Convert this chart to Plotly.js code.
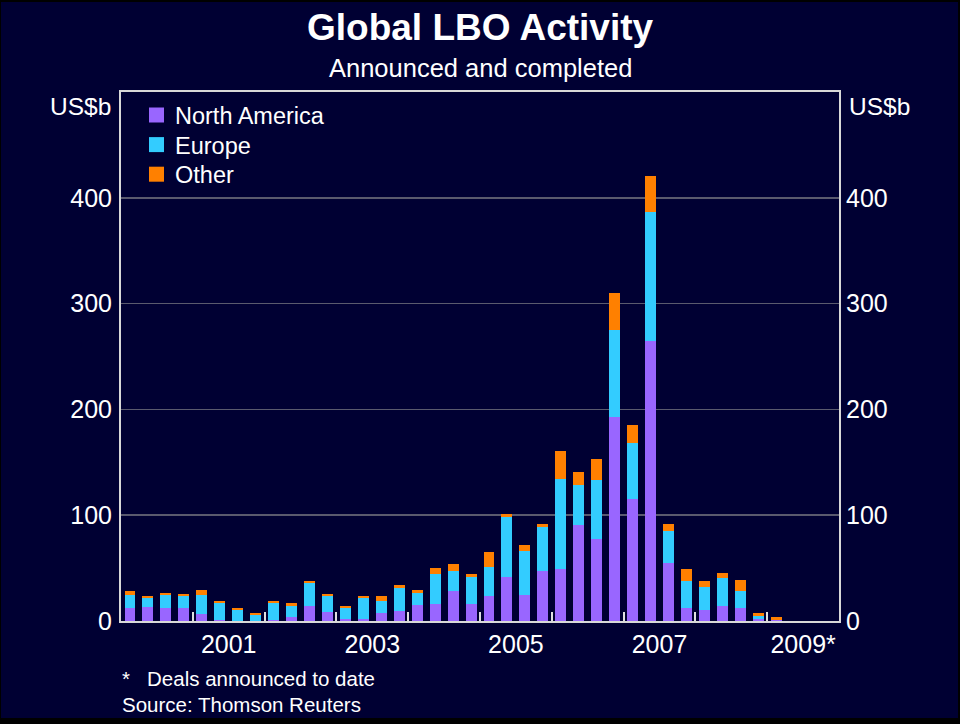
<!DOCTYPE html>
<html>
<head>
<meta charset="utf-8">
<script src="https://cdn.plot.ly/plotly-3.0.1.min.js"></script>
<style>
  html, body { margin: 0; padding: 0; background: #000000; width: 960px; height: 724px; overflow: hidden; }
  #chart { position: absolute; left: 1px; top: 2px; width: 957px; height: 716px; }
</style>
</head>
<body>
<div id="chart"></div>
<script>
// ---- Data (US$ billions, quarterly) ----
const quarters = [
  '2000Q1','2000Q2','2000Q3','2000Q4',
  '2001Q1','2001Q2','2001Q3','2001Q4',
  '2002Q1','2002Q2','2002Q3','2002Q4',
  '2003Q1','2003Q2','2003Q3','2003Q4',
  '2004Q1','2004Q2','2004Q3','2004Q4',
  '2005Q1','2005Q2','2005Q3','2005Q4',
  '2006Q1','2006Q2','2006Q3','2006Q4',
  '2007Q1','2007Q2','2007Q3','2007Q4',
  '2008Q1','2008Q2','2008Q3','2008Q4',
  '2009Q1'
];
const northAmerica = [
  12.3, 13.2, 12.3, 12.3,
  6.6, 0.5, 0.3, 0.3,
  0.5, 3.8, 14.2, 8.5,
  1.9, 1.6, 7.6, 9.3,
  14.8, 16.1, 28.1, 16.1,
  24.0, 41.6, 24.6, 47.3,
  49.2, 90.8, 77.6, 193.0,
  115.4, 264.9, 54.9, 12.6,
  10.4, 14.5, 12.6, 1.9,
  0.8
];
const europe = [
  12.3, 8.9, 12.3, 11.7,
  18.0, 16.2, 10.1, 5.1,
  16.2, 10.4, 21.4, 15.2,
  10.4, 20.2, 11.0, 21.9,
  11.4, 28.4, 18.9, 25.2,
  26.8, 56.8, 41.6, 41.6,
  85.1, 37.9, 55.8, 82.3,
  53.0, 122.0, 30.2, 25.2,
  21.8, 26.5, 15.8, 3.2,
  0.0
];
const other = [
  3.8, 1.6, 1.9, 1.9,
  4.7, 1.9, 1.9, 2.2,
  2.2, 2.8, 2.2, 1.8,
  1.9, 1.9, 5.1, 2.6,
  2.8, 5.7, 6.9, 2.9,
  14.2, 2.8, 5.7, 2.9,
  26.5, 12.3, 19.9, 35.0,
  17.0, 34.1, 6.7, 11.4,
  5.6, 4.4, 10.4, 2.5,
  2.6
];
const seriesNames = ['North America', 'Europe', 'Other'];
const seriesColors = ['#9966FF', '#33CCFF', '#FF8000'];
const yearBoundaries = [2001, 2002, 2003, 2004, 2005, 2006, 2007, 2008, 2009];
const xLabelYears = [2001, 2003, 2005, 2007, 2009];
const xLabelText = ['2001', '2003', '2005', '2007', '2009*'];
const yTicks = [0, 100, 200, 300, 400];

// quarter label -> position at the middle of the quarter (in years)
const xPos = quarters.map(q => {
  const yr = parseInt(q.slice(0, 4), 10);
  const qn = parseInt(q.slice(5), 10);
  return yr + (qn - 0.5) / 4;
});

const FONT = 'Liberation Sans, Arial, sans-serif';
const seriesValues = [northAmerica, europe, other];

const traces = seriesValues.map((vals, i) => ({
  type: 'bar',
  x: xPos,
  y: vals,
  name: seriesNames[i],
  marker: { color: seriesColors[i], line: { width: 0 } },
  showlegend: false
}));

// plot area geometry (px) used only to place the hand-drawn legend
const PLOT_W = 718, PLOT_H = 529;
const legendShapes = [], legendAnnots = [];
seriesNames.forEach((name, i) => {
  const cy = 115 + i * 29.6;          // page y of row centre
  const yc = (621 - cy) / PLOT_H;     // paper coordinate of row centre
  const half = 7.5 / PLOT_H;
  legendShapes.push({
    type: 'rect', xref: 'paper', yref: 'paper',
    x0: (149 - 121) / PLOT_W, x1: (164 - 121) / PLOT_W,
    y0: yc - half, y1: yc + half,
    fillcolor: seriesColors[i], line: { width: 0 }
  });
  legendAnnots.push({
    text: name, xref: 'paper', yref: 'paper',
    x: (173 - 121) / PLOT_W, y: yc - 1 / PLOT_H,
    xanchor: 'left', yanchor: 'middle', showarrow: false,
    font: { family: FONT, size: 23.5, color: '#FFFFFF' }
  });
});

const axisLine = '#d8d8d8';
const layout = {
  width: 957,
  height: 716,
  paper_bgcolor: '#000033',
  plot_bgcolor: '#000033',
  margin: { l: 120, r: 119, t: 90, b: 97 },
  barmode: 'stack',
  bargap: 0.39,
  showlegend: false,
  xaxis: {
    type: 'linear',
    range: [2000, 2010],
    tickmode: 'array',
    tickvals: yearBoundaries,
    showticklabels: false,
    ticks: 'inside',
    ticklen: 9,
    tickwidth: 2,
    tickcolor: '#e0e0e0',
    showgrid: false,
    zeroline: false,
    showline: true,
    linecolor: axisLine,
    linewidth: 2,
    mirror: true,
    fixedrange: true
  },
  xaxis2: {
    type: 'linear',
    overlaying: 'x',
    side: 'bottom',
    anchor: 'y',
    range: [2000, 2010],
    tickmode: 'array',
    tickvals: xLabelYears.map(y => y + 0.5),
    ticktext: xLabelText,
    ticks: '',
    showgrid: false,
    zeroline: false,
    showline: false,
    ticklabelstandoff: 6,
    tickfont: { family: FONT, size: 25, color: '#FFFFFF' },
    fixedrange: true
  },
  yaxis: {
    range: [0, 500],
    tickmode: 'array',
    tickvals: yTicks,
    ticks: '',
    showgrid: true,
    gridcolor: '#5a5a6e',
    gridwidth: 1.5,
    zeroline: false,
    showline: true,
    linecolor: axisLine,
    linewidth: 2,
    mirror: true,
    ticklabelstandoff: 2,
    tickfont: { family: FONT, size: 25, color: '#FFFFFF' },
    fixedrange: true
  },
  yaxis2: {
    overlaying: 'y',
    side: 'right',
    anchor: 'x',
    range: [0, 500],
    tickmode: 'array',
    tickvals: yTicks,
    ticks: '',
    showgrid: false,
    zeroline: false,
    showline: false,
    ticklabelstandoff: 6,
    tickfont: { family: FONT, size: 25, color: '#FFFFFF' },
    fixedrange: true
  },
  shapes: legendShapes,
  annotations: [
    { text: 'Global LBO Activity', xref: 'paper', yref: 'paper', x: 0.5, y: 1.121,
      xanchor: 'center', yanchor: 'middle', showarrow: false,
      font: { family: FONT, size: 37, color: '#FFFFFF', weight: 'bold' } },
    { text: 'Announced and completed', xref: 'paper', yref: 'paper', x: 0.5, y: 1.045,
      xanchor: 'center', yanchor: 'middle', showarrow: false,
      font: { family: FONT, size: 25.5, color: '#FFFFFF' } },
    { text: 'US$b', xref: 'paper', yref: 'paper', x: -0.011, y: 0.973,
      xanchor: 'right', yanchor: 'middle', showarrow: false,
      font: { family: FONT, size: 24.5, color: '#FFFFFF' } },
    { text: 'US$b', xref: 'paper', yref: 'paper', x: 1.011, y: 0.973,
      xanchor: 'left', yanchor: 'middle', showarrow: false,
      font: { family: FONT, size: 24.5, color: '#FFFFFF' } },
    { text: '*&nbsp;&nbsp;&nbsp;Deals announced to date', xref: 'paper', yref: 'paper', x: -0.001, y: -0.108,
      xanchor: 'left', yanchor: 'middle', showarrow: false,
      font: { family: FONT, size: 20.5, color: '#FFFFFF' } },
    { text: 'Source: Thomson Reuters', xref: 'paper', yref: 'paper', x: -0.001, y: -0.157,
      xanchor: 'left', yanchor: 'middle', showarrow: false,
      font: { family: FONT, size: 20.5, color: '#FFFFFF' } }
  ].concat(legendAnnots)
};

// invisible trace to activate xaxis2 / yaxis2 label axes
traces.push({ type: 'scatter', x: [2000.5], y: [0], xaxis: 'x2', yaxis: 'y2',
  mode: 'markers', marker: { opacity: 0 }, showlegend: false, hoverinfo: 'skip' });

Plotly.newPlot('chart', traces, layout, { staticPlot: true, displayModeBar: false });
</script>
</body>
</html>
